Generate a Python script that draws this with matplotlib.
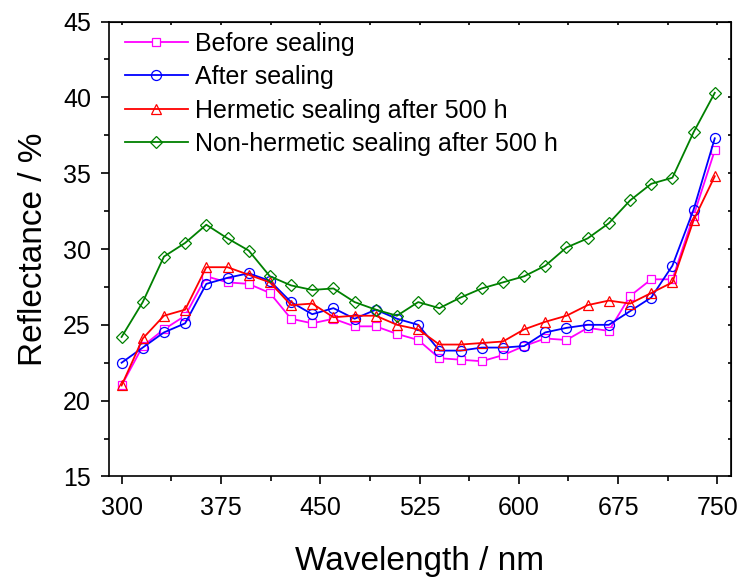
import matplotlib.pyplot as plt
import numpy as np
from matplotlib.ticker import MultipleLocator

plt.rcParams['font.family'] = ['Liberation Sans', 'DejaVu Sans']

# wavelength grid (nm)
wavelength = np.arange(300, 750, 16)

before_sealing = [21.0, 23.6, 24.7, 25.6, 28.2, 27.8, 27.7, 27.1, 25.4, 25.1,
                  25.4, 24.9, 24.9, 24.4, 24.0, 22.8, 22.7, 22.6, 23.0, 23.6,
                  24.1, 24.0, 24.8, 24.6, 26.9, 28.0, 28.0, 32.2, 36.5]
after_sealing = [22.5, 23.5, 24.5, 25.1, 27.7, 28.1, 28.4, 27.9, 26.5, 25.7,
                 26.1, 25.4, 26.0, 25.4, 25.0, 23.3, 23.3, 23.5, 23.5, 23.6,
                 24.5, 24.8, 25.0, 25.0, 25.9, 26.8, 28.9, 32.6, 37.3]
hermetic_500h = [21.0, 24.1, 25.6, 26.0, 28.8, 28.8, 28.3, 27.8, 26.3, 26.4,
                 25.5, 25.6, 25.6, 25.0, 24.7, 23.7, 23.7, 23.8, 23.9, 24.7,
                 25.2, 25.6, 26.3, 26.6, 26.4, 27.1, 27.8, 31.9, 34.8]
non_hermetic_500h = [24.2, 26.5, 29.5, 30.4, 31.6, 30.7, 29.9, 28.2, 27.6, 27.3,
                     27.4, 26.5, 26.0, 25.6, 26.5, 26.1, 26.8, 27.4, 27.8, 28.2,
                     28.9, 30.1, 30.7, 31.7, 33.2, 34.3, 34.7, 37.7, 40.3]

labels = ['Before sealing', 'After sealing',
          'Hermetic sealing after 500 h', 'Non-hermetic sealing after 500 h']

fig = plt.figure(figsize=(7.43, 5.77), dpi=100)
ax = fig.add_axes([0.1467, 0.1742, 0.8367, 0.7885])

ax.plot(wavelength, before_sealing, color='#ff00ff', marker='s', ms=6.3,
        mfc='white', mec='#ff00ff', mew=0.9, lw=1.3, label=labels[0])
ax.plot(wavelength, after_sealing, color='#0000ff', marker='o', ms=7.2,
        mfc='none', mec='#0000ff', mew=0.9, lw=1.3, label=labels[1])
ax.plot(wavelength, hermetic_500h, color='#ff0000', marker='^', ms=7.7,
        mfc='none', mec='#ff0000', mew=0.9, lw=1.3, label=labels[2])
ax.plot(wavelength, non_hermetic_500h, color='#008000', marker='D', ms=5.8,
        mfc='none', mec='#008000', mew=0.9, lw=1.3, label=labels[3])

ax.set_xlim(290.5, 760)
ax.set_ylim(15, 45)
ax.xaxis.set_major_locator(MultipleLocator(75))
ax.xaxis.set_minor_locator(MultipleLocator(37.5))
ax.yaxis.set_major_locator(MultipleLocator(5))
ax.yaxis.set_minor_locator(MultipleLocator(2.5))

for s in ax.spines.values():
    s.set_linewidth(1.2)

ax.tick_params(which='major', direction='out', length=6, width=1.2,
               labelsize=18, pad=5)
ax.tick_params(axis='x', which='major', pad=8)
ax.tick_params(axis='y', which='major', pad=7)
ax.tick_params(which='minor', direction='out', length=3.5, width=1.2)

ax.set_xlabel('Wavelength / nm', fontsize=24, labelpad=19)
ax.set_ylabel('Reflectance / %', fontsize=24, labelpad=10)

# top/right mirror ticks are only small nubs
sec_x = ax.secondary_xaxis('top')
sec_x.xaxis.set_major_locator(MultipleLocator(75))
sec_x.xaxis.set_minor_locator(MultipleLocator(37.5))
sec_x.tick_params(which='both', direction='in', length=2, width=1.2,
                  labeltop=False, labelbottom=False)
sec_y = ax.secondary_yaxis('right')
sec_y.yaxis.set_major_locator(MultipleLocator(5))
sec_y.yaxis.set_minor_locator(MultipleLocator(2.5))
sec_y.tick_params(which='both', direction='in', length=2, width=1.2,
                  labelright=False, labelleft=False)

ax.legend(loc='upper left', frameon=False, fontsize=18, handlelength=2.5,
          handletextpad=0.3, labelspacing=0.38, borderaxespad=0.0,
          bbox_to_anchor=(0.01, 1.0))

fig.savefig('out.png', dpi=100)
